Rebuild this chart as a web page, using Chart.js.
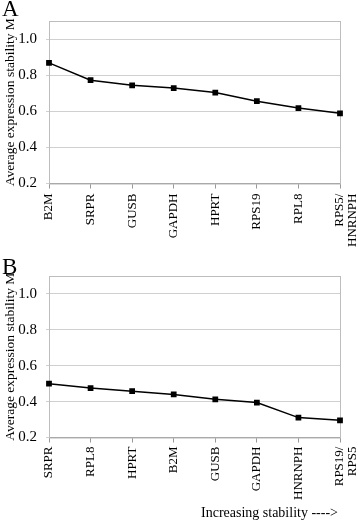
<!DOCTYPE html>
<html>
<head>
<meta charset="utf-8">
<script src="https://cdn.jsdelivr.net/npm/chart.js@4"></script>
<style>
  body { margin: 0; background: #fff; font-family: "Liberation Serif", "Times New Roman", serif; }
  #wrap { position: relative; width: 358px; height: 525px; overflow: hidden; }
  .panel { position: absolute; left: 0; width: 358px; }
  .letter { position: absolute; left: 2px; font-size: 23px; color: #000; }
  #note { position: absolute; left: 201px; top: 505px; font-size: 14px; color: #000; white-space: nowrap; }
</style>
</head>
<body>
<div id="wrap">
  <div class="panel" style="top:0;height:258px"><canvas id="chartA"></canvas></div>
  <div class="panel" style="top:258px;height:248px"><canvas id="chartB"></canvas></div>
  <div class="letter" style="top:-4px">A</div>
  <div class="letter" style="top:254px">B</div>
  <div id="note">Increasing stability ----&gt;</div>
</div>
<script>
// panel A
const genesA = ['B2M', 'SRPR', 'GUSB', 'GAPDH', 'HPRT', 'RPS19', 'RPL8', ['RPS5/', 'HNRNPH']];
const stabilityA = [0.868, 0.772, 0.744, 0.729, 0.704, 0.656, 0.618, 0.589];
// panel B
const genesB = ['SRPR', 'RPL8', 'HPRT', 'B2M', 'GUSB', 'GAPDH', 'HNRNPH', ['RPS19/', 'RPS5']];
const stabilityB = [0.500, 0.476, 0.458, 0.440, 0.413, 0.395, 0.311, 0.296];

const yTitle = 'Average expression stability M';
const serif = '"Liberation Serif", "Times New Roman", serif';

// grey frame round the plot area
const frame = {
  id: 'frame',
  beforeDatasetsDraw(chart) {
    const a = chart.chartArea, ctx = chart.ctx;
    ctx.save();
    ctx.strokeStyle = '#bdbdbd';
    ctx.lineWidth = 1;
    ctx.strokeRect(a.left + 0.5, a.top + 0.5, a.right - a.left, a.bottom - a.top);
    ctx.restore();
  }
};

function makeChart(id, labels, values, pad, xPad) {
  return new Chart(document.getElementById(id), {
    type: 'line',
    data: {
      labels: labels,
      datasets: [{
        data: values,
        borderColor: '#000',
        backgroundColor: '#000',
        borderWidth: 1.5,
        pointStyle: 'rect',
        pointRadius: 3,
        tension: 0
      }]
    },
    options: {
      responsive: true,
      maintainAspectRatio: false,
      animation: false,
      layout: { padding: pad },
      plugins: { legend: { display: false }, tooltip: { enabled: false } },
      scales: {
        x: {
          offset: false,
          border: { color: '#999', width: 1 },
          grid: { drawOnChartArea: false, tickLength: 5, color: '#999' },
          ticks: {
            color: '#000',
            font: { family: serif, size: 13, lineHeight: 1.0 },
            minRotation: 90,
            maxRotation: 90,
            autoSkip: false,
            padding: xPad
          },
          // let the last label hang past the plot edge
          afterFit(scale) { scale.paddingRight = 0; scale.paddingLeft = 0; }
        },
        y: {
          min: 0.2,
          max: 1.1,
          border: { color: '#999', width: 1 },
          grid: { color: '#d0d0d0', borderDash: [1, 2], tickLength: 3 },
          ticks: {
            stepSize: 0.1,
            color: '#000',
            font: { family: serif, size: 15 },
            padding: 9,
            callback: v => Math.round(v * 10) % 2 === 0 ? v.toFixed(1) : ''
          },
          title: {
            display: true,
            text: yTitle,
            color: '#000',
            font: { family: serif, size: 13.5 },
            padding: { top: 0, bottom: 0 }
          },
          afterFit(scale) { scale.width = 49 - pad.left; }
        }
      }
    },
    plugins: [frame]
  });
}

makeChart('chartA', genesA, stabilityA, { top: 21, right: 18, left: 2, bottom: 6 }, 5);
makeChart('chartB', genesB, stabilityB, { top: 14, right: 18, left: 2, bottom: 2 }, 4);
</script>
</body>
</html>
